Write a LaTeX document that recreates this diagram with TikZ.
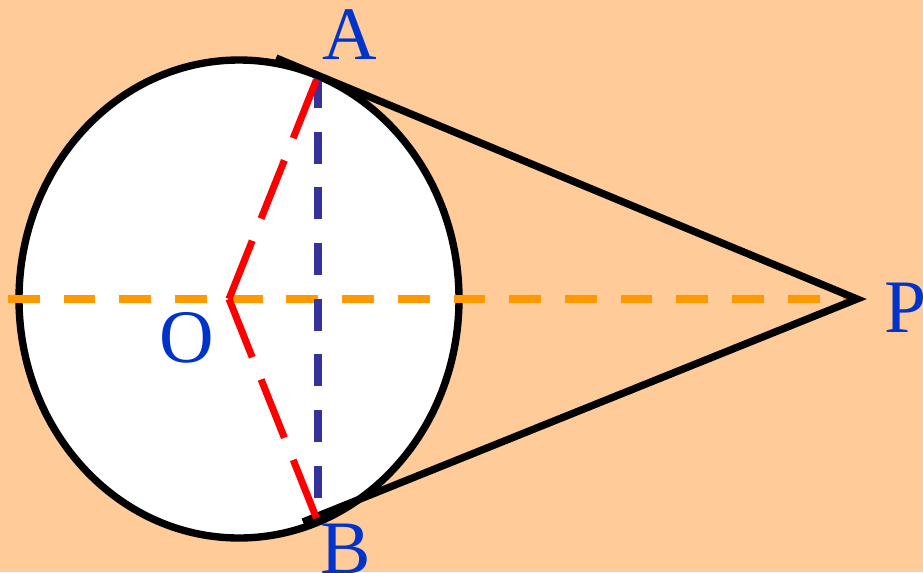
\documentclass[tikz,border=0pt]{standalone}
\usepackage{fontspec}
\setmainfont{Liberation Serif}
\definecolor{peach}{HTML}{FFCC99}
\definecolor{axisorange}{HTML}{FF9900}
\definecolor{chordblue}{HTML}{333399}
\definecolor{labelblue}{HTML}{0033CC}
\begin{document}
\begin{tikzpicture}[x=0.02cm,y=-0.02cm,
  every node/.style={inner sep=0pt,text=labelblue,font=\fontsize{43}{43}\selectfont},
  outline/.style={line width=4.2pt,black},
  axisline/.style={line width=4.4pt,axisorange,dash pattern=on 18.1pt off 13.6pt},
  chordline/.style={line width=4.4pt,chordblue,dash pattern=on 18.1pt off 13.6pt},
  radiusline/.style={line width=4pt,red,dash pattern=on 35.7pt off 13.6pt}]
  \fill[peach] (0,0) rectangle (923,572);
  \useasboundingbox (0,0) rectangle (923,572);
  % points
  \coordinate (O) at (229,299);
  \coordinate (A) at (318,76);
  \coordinate (B) at (318,522);
  \coordinate (P) at (857,299);
  \coordinate (T1) at (276,58);
  \coordinate (T2) at (303,522);
  \coordinate (E) at (8,299);
  \coordinate (F) at (318,500);
  % circle
  \filldraw[outline,fill=white] (239,299) ellipse [x radius=220, y radius=239];
  \draw[axisline] (E) -- (P);
  \draw[chordline] (A) -- (F);
  \draw[outline,line join=miter] (T1) -- (P) -- (T2);
  \draw[radiusline] (O) -- (A);
  \draw[radiusline] (O) -- (B);
  % labels
  \node[anchor=base] (la) at (350,59) {A};
  \node[anchor=base] (lb) at (346,573) {B};
  \node[anchor=base] (lo) at (187,362) {O};
  \node[anchor=base west] (lp) at (884,332) {P};
\end{tikzpicture}
\end{document}
